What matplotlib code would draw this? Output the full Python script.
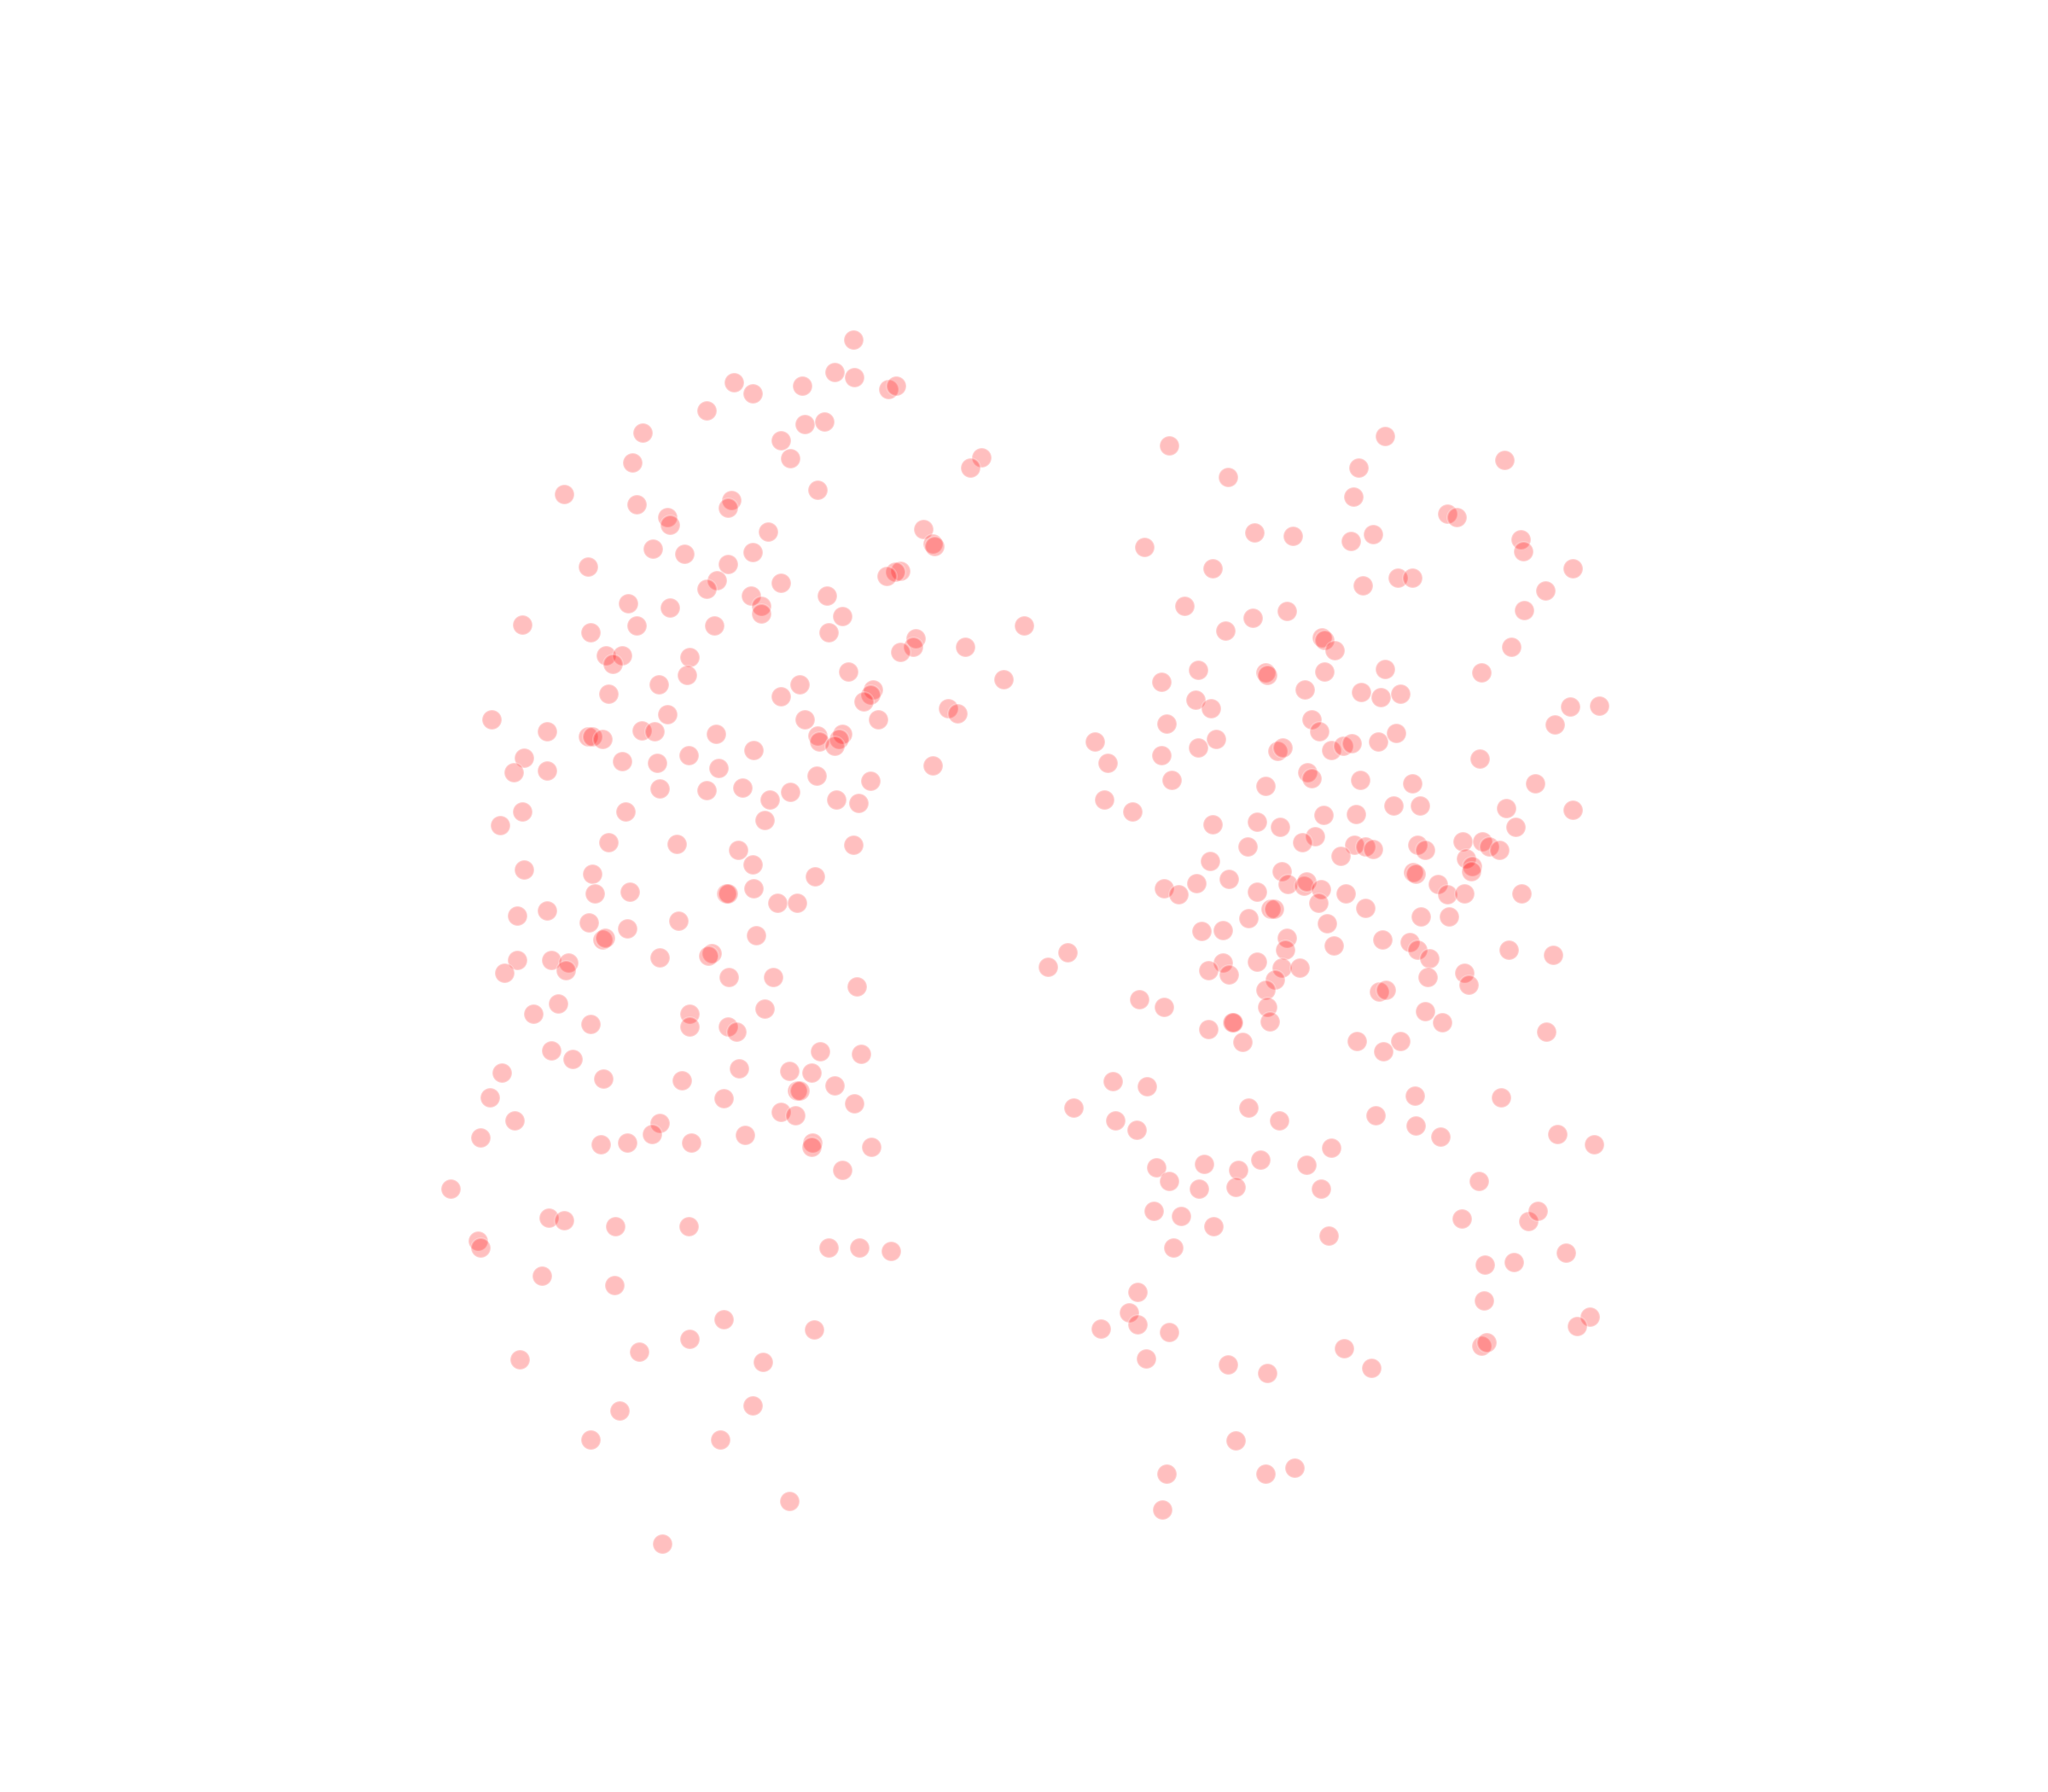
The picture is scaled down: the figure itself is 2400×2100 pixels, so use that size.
import numpy as np
import matplotlib
matplotlib.use("Agg")
import matplotlib.pyplot as plt

# two groups of points
left_x = [653,562,576,614,639,654,680,686,541,492,616,631,598,605,484,751,743,432,626,487,560,557,511,513,588,707,714,715,500,524,576,450,557,689,685,679,549,598,541,575,633,481,513,583,583,645,400,452,487,547,634,784,701,699,689,739,464,476,469,528,526,649,768,504,612,466,598,668,666,661,726,733,511,376,616,672,419,491,501,450,453,461,548,626,645,627,642,639,577,401,476,503,527,393,419,550,714,625,666,505,541,568,605,589,640,657,400,479,585,383,466,518,653,565,576,401,453,624,455,482,556,557,577,595,610,396,419,451,519,480,579,461,463,545,542,396,422,435,433,386,505,558,592,656,427,408,528,585,452,528,557,564,422,438,628,659,384,462,522,566,604,621,639,610,612,375,554,654,598,609,394,505,499,368,570,460,480,529,622,621,667,645,345,420,432,471,527,366,368,634,658,682,415,470,554,623,528,489,398,584,576,474,452,551,604,507]
left_y = [260,293,301,295,285,289,298,295,314,331,325,323,337,351,354,350,358,378,375,386,383,389,396,402,407,405,416,418,420,424,423,434,432,437,438,441,444,446,451,456,456,462,465,464,470,472,478,484,479,479,484,479,489,495,499,495,502,502,508,503,517,514,520,524,524,531,533,528,532,537,542,546,547,551,551,551,560,559,560,564,564,566,562,563,562,568,566,571,574,580,583,584,578,591,590,588,586,594,598,604,605,603,606,612,612,615,621,621,628,632,645,646,647,651,662,666,669,671,684,683,684,684,680,691,691,701,697,706,705,711,716,719,718,730,732,735,735,737,743,745,733,748,748,755,768,776,776,772,784,786,786,790,804,811,805,807,821,826,827,818,820,821,831,835,835,840,841,845,851,854,858,860,868,871,869,876,875,875,875,878,878,896,910,932,934,939,939,950,955,955,955,958,977,984,1010,1018,1025,1035,1041,1043,1076,1080,1102,1102,1149,1182]

right_x = [895,1060,1040,1152,940,1036,1108,1115,960,990,1034,1051,1164,1166,876,928,1204,1070,1081,1043,1183,907,959,985,1167,938,1012,1014,1022,1157,917,969,970,1014,1060,1134,889,999,1042,1057,1072,915,927,1202,1224,893,1004,1010,1190,838,931,917,978,982,1019,1028,1035,1055,1069,848,889,1133,897,1001,1004,1041,969,1081,1175,845,867,1067,1087,1153,1204,1013,1038,928,962,980,1160,1007,997,955,1037,1045,1051,1026,1085,1091,1120,1135,1140,1148,1122,926,981,1082,1084,1127,1126,941,916,986,998,1000,1011,891,902,962,1030,1101,1108,1121,1165,1009,1045,973,975,956,1016,1088,1109,920,936,985,984,1021,1058,1079,1085,1094,1155,1189,817,802,936,962,925,941,981,995,976,1093,1121,1124,969,1056,1061,872,891,970,1091,1104,943,944,925,972,1184,951,1039,1072,1059,852,878,1083,1149,822,956,854,870,979,1053,1084,1103,1192,1220,1019,885,922,948,965,1000,895,918,946,1011,1132,883,904,929,1119,1170,1177,1017,898,1199,1137,1159,871,1136,864,871,843,895,1217,1207,1029,1134,1138,877,940,970,1050,893,946,969,991,890]
right_y = [341,334,358,352,365,380,393,396,408,410,414,409,413,422,419,435,435,442,442,448,452,464,473,468,467,483,488,490,498,495,513,515,517,514,512,515,522,528,530,534,531,536,542,541,540,554,551,560,555,568,566,572,575,572,574,571,569,568,561,584,578,581,597,591,596,597,602,600,600,612,621,617,617,619,620,624,623,631,629,633,633,640,645,648,647,648,650,655,647,651,644,644,648,651,657,659,667,668,669,663,667,673,676,677,678,675,681,680,685,683,684,677,685,684,684,691,695,696,696,703,707,702,702,713,712,718,727,724,719,721,727,734,727,731,729,740,737,736,743,746,741,741,750,748,745,754,758,759,758,765,771,771,774,783,783,783,788,782,790,798,797,797,805,828,832,839,840,848,848,858,865,858,854,862,870,868,876,879,894,891,896,888,892,904,910,909,910,904,927,931,939,933,935,927,946,955,959,968,966,989,996,1005,1014,1017,1020,1008,1015,1032,1030,1028,1040,1045,1051,1047,1128,1103,1128,1124,1156]

fig = plt.figure(figsize=(8, 7), dpi=300)
ax = fig.add_axes([0, 0, 1, 1])
ax.scatter(left_x + right_x, left_y + right_y, s=30, c="red", alpha=0.25, edgecolors="white", linewidths=0.5)
ax.set_xlim(-0.1, 1567.9)
ax.set_ylim(1372, 0)
ax.axis("off")

plt.savefig("out.png", dpi=300)
